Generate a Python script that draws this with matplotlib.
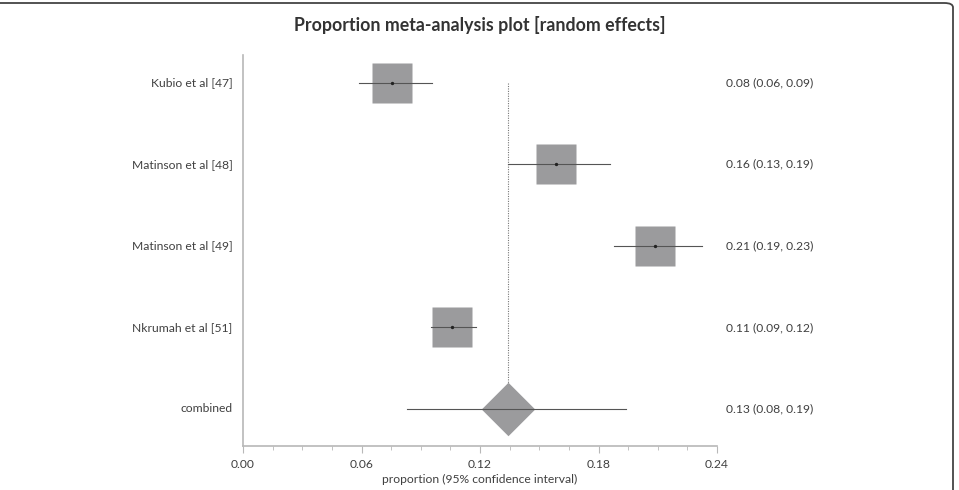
import matplotlib
matplotlib.use("Agg")
import matplotlib.pyplot as plt
from matplotlib.patches import FancyBboxPatch
from matplotlib.ticker import MultipleLocator

plt.rcParams['font.family'] = ['Lato', 'DejaVu Sans']

studies = ["Kubio et al [47]", "Matinson et al [48]", "Matinson et al [49]", "Nkrumah et al [51]"]
estimates = [0.0754, 0.1585, 0.2085, 0.1058]
ci_low = [0.0587, 0.134, 0.188, 0.0951]
ci_high = [0.0957, 0.186, 0.2325, 0.118]
right_labels = ["0.08 (0.06, 0.09)", "0.16 (0.13, 0.19)", "0.21 (0.19, 0.23)", "0.11 (0.09, 0.12)"]

combined_label = "combined"
combined_est = 0.134
combined_low = 0.0832
combined_high = 0.194
combined_text = "0.13 (0.08, 0.19)"

xticks = [0.00, 0.06, 0.12, 0.18, 0.24]

TEXT = "#404040"
GRAY = "#9b9b9d"
LINE = "#555555"

W, H = 959, 490
fig = plt.figure(figsize=(W / 100, H / 100), dpi=100)
ax = fig.add_axes([243 / W, (H - 446) / H, 474 / W, (446 - 55) / H])

n = len(studies)
ys = list(range(n + 1, 1, -1))  # 5,4,3,2
y_comb = 1

# dotted vertical line at combined estimate
ax.plot([combined_est, combined_est], [ys[0], y_comb], color="#777777",
        lw=0.8, ls=(0, (1, 1.2)), zorder=1)

for y, e, lo, hi in zip(ys, estimates, ci_low, ci_high):
    ax.plot(e, y, marker='s', ms=28.8, mfc=GRAY, mec='none', zorder=2)
    ax.plot([lo, hi], [y, y], color=LINE, lw=0.8, zorder=3)
    ax.plot(e, y, marker='o', ms=1.4, color='#222222', zorder=4)

# combined
ax.plot([combined_low, combined_high], [y_comb, y_comb], color=LINE, lw=0.8, zorder=3)
diamond = [(-1, 0), (0, 1), (1, 0), (0, -1), (-1, 0)]
ax.plot(combined_est, y_comb, marker=diamond, ms=38.5, mfc=GRAY, mec='none', zorder=2)

ax.set_xlim(0, 0.24)
ax.set_ylim(0.546, 5.34)
ax.set_xticks(xticks)
ax.set_xticklabels([f"{t:.2f}" for t in xticks])
ax.xaxis.set_minor_locator(MultipleLocator(0.015))
ax.set_yticks([])
for s in ["top", "right"]:
    ax.spines[s].set_visible(False)
for s in ["left", "bottom"]:
    ax.spines[s].set_color("#b8b8b8")
    ax.spines[s].set_linewidth(1.2)
ax.tick_params(axis='x', which='both', direction='out', colors="#b8b8b8",
               labelcolor=TEXT, labelsize=8.7, pad=4)
ax.tick_params(axis='x', which='major', length=5)
ax.tick_params(axis='x', which='minor', length=3)
ax.set_xlabel("proportion (95% confidence interval)", fontsize=8.7, color=TEXT, labelpad=3)

all_labels = studies + [combined_label]
all_right = right_labels + [combined_text]
all_y = ys + [y_comb]
for lab, rl, y in zip(all_labels, all_right, all_y):
    ax.annotate(lab, xy=(0, y), xycoords=('axes fraction', 'data'),
                xytext=(-7.5, 0), textcoords='offset points',
                ha='right', va='center', fontsize=8.7, color=TEXT)
    ax.annotate(rl, xy=(1, y), xycoords=('axes fraction', 'data'),
                xytext=(6.5, 0), textcoords='offset points',
                ha='left', va='center', fontsize=8.7, color=TEXT)

fig.text(480 / W, 1 - 25 / H, "Proportion meta-analysis plot [random effects]",
         ha='center', va='center', fontsize=12.8, fontweight='bold', color="#333333")

# frame
frame = FancyBboxPatch((-20 / W, -30 / H), (953 + 20) / W, (H - 3 + 30) / H,
                       boxstyle="round,pad=0,rounding_size=0.009",
                       transform=fig.transFigure, fill=False,
                       ec="#444444", lw=1.3, clip_on=False)
fig.patches.append(frame)

fig.savefig("out.png", dpi=100)
